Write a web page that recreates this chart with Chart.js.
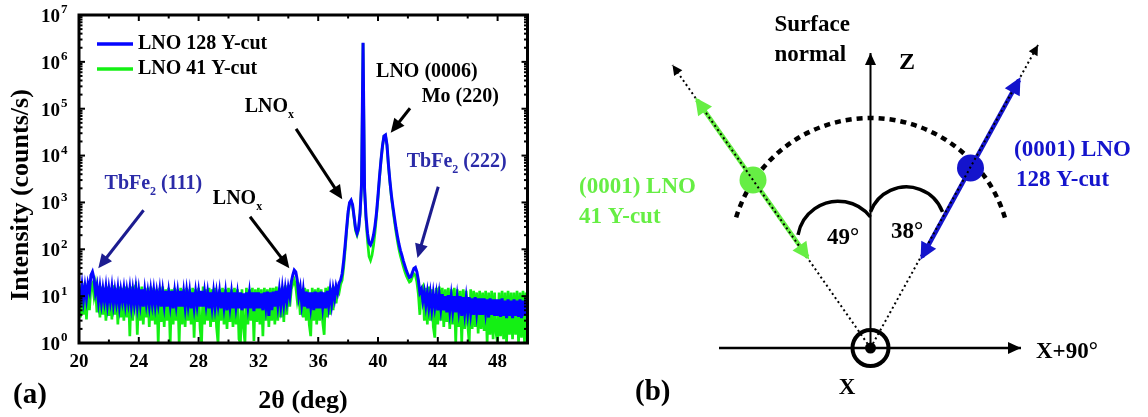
<!DOCTYPE html>
<html><head><meta charset="utf-8">
<script src="https://cdn.jsdelivr.net/npm/chart.js@4.4.1/dist/chart.umd.min.js"></script>
<style>
html,body{margin:0;padding:0;background:#fff;width:1148px;height:417px;overflow:hidden;}
#chartA{position:absolute;left:0;top:0;}
#chartB{position:absolute;left:560px;top:0;}
</style></head><body>
<canvas id="chartA" width="560" height="417"></canvas>
<canvas id="chartB" width="588" height="417"></canvas>
<script>
// ---------------- Panel (a) data ----------------
const TWO_THETA_START = 20.0;
const TWO_THETA_STEP = 0.1;
const xTickLabels = [20, 24, 28, 32, 36, 40, 44, 48];
const xMinorTicks = [22, 26, 30, 34, 38, 42, 46];
const yDecades = [1, 10, 100, 1e3, 1e4, 1e5, 1e6, 1e7];
const yExponents = ['0', '1', '2', '3', '4', '5', '6', '7'];

// LNO 128 Y-cut intensity (counts/s), one row per degree (20.0 ... 50.0)
const intensity128 = [
  14, 9, 17, 8.5, 16, 9, 18, 13, 28, 33,
  24, 12, 17, 8, 15, 7.5, 14, 8, 15, 7,
  14, 8, 15, 7, 13, 7.5, 14, 6.5, 13, 8,
  14, 7, 13, 7.5, 14, 6.5, 13, 7, 14, 6.5,
  13, 7, 14, 6, 13, 7, 12, 6.5, 13, 7,
  13, 6.5, 12, 7, 13, 6, 12.5, 6.5, 13, 6,
  12, 6.5, 13, 5.5, 12, 6.5, 12, 6, 13, 6,
  12, 6, 12.5, 6.5, 12, 5.5, 12, 6, 12, 6.5,
  12, 6, 13, 6, 12, 6.5, 11.5, 5.5, 12, 6,
  12, 6, 11.5, 6.5, 12, 5.5, 12, 6, 11.5, 5,
  12, 6, 11.5, 5.5, 12, 6, 11, 5.5, 12, 5,
  11.5, 5.5, 12, 6, 11.5, 5.5, 12, 4.8, 12, 5.5,
  12, 5.5, 11.5, 5, 12, 6, 12.5, 3.8, 12, 5,
  12.5, 6, 13, 6.5, 13, 6.5, 14, 7, 14, 8,
  15, 10, 20, 28, 36, 33, 22, 10, 15, 7,
  13, 6, 12.5, 5.5, 12, 6, 12, 5, 12.5, 5.5,
  12, 5.5, 12.5, 6, 12, 5.5, 13, 6.5, 13, 7,
  14, 9, 16, 12, 19, 22, 30, 56, 120, 280,
  630, 1000, 1120, 890, 500, 280, 220, 280, 600, 2500,
  2550000, 2000, 500, 220, 135, 123, 148, 200, 320, 600,
  1400, 3500, 8000, 16000, 26000, 27500, 17000, 6300, 2800, 1400,
  800, 480, 290, 190, 130, 95, 74, 56, 44, 35,
  29, 25, 26, 32, 39, 41, 33, 22, 12, 14,
  8, 12, 6.5, 11.5, 6, 11, 5.5, 11, 6, 10.5,
  5, 10.5, 5.5, 11, 5, 10, 4.5, 10.5, 5, 10,
  5, 10, 4.5, 9.5, 5, 10, 3.8, 9.5, 4.5, 9,
  4.5, 9.5, 4.5, 9, 4, 9.5, 4.5, 9, 4, 9,
  4, 9, 4.5, 8.5, 3.5, 9, 4, 8.5, 3.8, 8.5,
  3.8, 8.5, 3.6, 9, 3.8, 8, 3.4, 8.5, 3.8, 8,
  3.4, 8.5, 3.8, 8, 3.6, 8.5, 3.4, 8, 3.8, 8.5,
  4
];

// LNO 41 Y-cut intensity (counts/s)
const intensity41 = [
  18, 3.5, 17, 4, 19, 3.2, 16, 5, 17, 19,
  10, 16, 4.5, 15, 3.5, 16, 4, 15, 3, 16,
  3.8, 15, 3.2, 17, 4, 15, 2.5, 16, 3.5, 15,
  3, 16, 3.5, 15, 1.4, 16, 3, 15, 17, 1.5,
  15, 3, 16, 2.5, 14, 3.5, 15, 2.2, 16, 3,
  15, 2.5, 14, 1.0, 15, 2.8, 16, 2.2, 14, 3,
  15, 1.0, 14, 2.5, 15, 3, 14, 1.0, 15, 2.5,
  14, 2.2, 15, 3, 14, 2.5, 15, 1.3, 14, 2.8,
  15, 2, 1.0, 16, 2.5, 14, 3, 15, 2.2, 14,
  2.8, 15, 2.2, 1.0, 14, 3, 15, 2.5, 14, 2,
  15, 2.8, 14, 2.2, 15, 2.5, 14, 1.2, 1.0, 14,
  2.2, 1.0, 15, 2.5, 14, 3, 15, 1.1, 14, 2.8,
  15, 2.5, 14, 1.4, 15, 3, 14, 2.2, 15, 3,
  15, 2.5, 16, 3, 15, 3.5, 16, 2.8, 17, 4,
  16, 6, 14, 18, 22, 16, 8, 12, 4, 14,
  3.5, 15, 3, 14, 2.5, 1.4, 15, 3, 14, 2.5,
  15, 3, 14, 2.8, 1.5, 15, 3.5, 16, 4, 15,
  5, 16, 7, 14, 12, 18, 22, 40, 95, 240,
  560, 950, 1080, 850, 470, 250, 200, 260, 560, 2300,
  2500000, 1900, 420, 150, 70, 58, 75, 120, 230, 520,
  1250, 3300, 7800, 16000, 26000, 27000, 16500, 6000, 2600, 1250,
  700, 400, 240, 150, 100, 72, 55, 42, 33, 27,
  23, 20, 21, 26, 30, 28, 20, 11, 4, 14,
  16, 3, 15, 2.5, 16, 3, 14, 2.2, 1.3, 15,
  2.5, 16, 3, 15, 2.2, 14, 2.8, 15, 2, 14,
  2.5, 15, 1.0, 14, 2.2, 13, 1.0, 14, 2, 13,
  2.5, 1.0, 14, 2, 13, 2.2, 12, 1.6, 13, 2,
  12, 1.8, 13, 1.0, 12, 1.5, 13, 1.2, 12, 1.6,
  1.0, 12, 1.4, 13, 1.2, 12, 1.0, 13, 1.5, 12,
  1.2, 12, 1.5, 13, 1.0, 12, 1.3, 13, 1.0, 12,
  1.4
];

const seriesNames = ['LNO 128 Y-cut', 'LNO 41 Y-cut'];

// Annotation labels (x in deg, y in counts/s); parts: [text, 0=normal | 1=subscript]
const peakLabels = [
  {parts: [['TbFe', 0], ['2', 1], [' (111)', 0]], x: 21.71, y: 2512, color: '#2b2ba8'},
  {parts: [['LNO', 0], ['x', 1]], x: 28.95, y: 1183, color: '#000'},
  {parts: [['LNO', 0], ['x', 1]], x: 31.08, y: 110900, color: '#000'},
  {parts: [['LNO (0006)', 0]], x: 39.87, y: 616600, color: '#000'},
  {parts: [['Mo (220)', 0]], x: 42.92, y: 175000, color: '#000'},
  {parts: [['TbFe', 0], ['2', 1], [' (222)', 0]], x: 41.92, y: 7178, color: '#2b2ba8'}
];
const peakArrows = [
  {from: [24.32, 682], to: [21.29, 39.3], color: '#1c1c90'},
  {from: [31.44, 495], to: [34.07, 39.3], color: '#000'},
  {from: [34.52, 37070], to: [37.61, 1167], color: '#000'},
  {from: [42.14, 102100], to: [40.85, 30760], color: '#000'},
  {from: [44.03, 2163], to: [42.64, 65.2], color: '#1c1c90'}
];

// ---------------- Panel (b) data (schematic units, origin at the X pole, y up) ----------------
const axisX90 = [[-151.5, 0], [150.5, 0]];
const axisZ = [[0, 0], [0, 295]];
const ray41 = [[0, 0], [-198, 283]];
const ray128 = [[0, 0], [167.5, 303]];
const vector41 = [[-173.5, 248], [-63, 91]];
const vector128 = [[51.5, 91], [148.5, 268]];
const pole41 = [-117.5, 168];
const pole128 = [100, 180];
const originPole = [0, 0];
const sweepArc = {cx: 0, cy: 89.5, r: 140.5, fromDeg: 163, toDeg: 16};
const angleArc41 = {cx: -32.3, cy: 106, r: 40.8, fromDeg: 170, toDeg: 37.7};
const angleArc128 = {cx: 36, cy: 122.7, r: 38.4, fromDeg: 159.7, toDeg: 20.3};
const cutAngles = ['49°', '38°'];

// ---------------- helpers ----------------
const SERIF = '"Liberation Serif", "Times New Roman", Times, serif';
const BLUE = '#0505ff', GREEN = '#14f014';
const GREEN_B = '#66ee44', BLUE_B = '#1414cc';
function font(px) { return 'bold ' + px + 'px ' + SERIF; }
function drawParts(ctx, parts, x, y, color, align, size, subSize, subDy) {
  ctx.save();
  ctx.textBaseline = 'middle';
  ctx.textAlign = 'left';
  ctx.fillStyle = color;
  let total = 0;
  for (const p of parts) { ctx.font = font(p[1] ? subSize : size); total += ctx.measureText(p[0]).width; }
  let cx = align === 'center' ? x - total / 2 : (align === 'right' ? x - total : x);
  for (const p of parts) {
    ctx.font = font(p[1] ? subSize : size);
    ctx.fillText(p[0], cx, y + (p[1] ? subDy : 0));
    cx += ctx.measureText(p[0]).width;
  }
  ctx.restore();
}
function drawArrow(ctx, x1, y1, x2, y2, color, lw, headLen, headHalf, extend) {
  const a = Math.atan2(y2 - y1, x2 - x1);
  const c = Math.cos(a), s = Math.sin(a);
  const tx = x2 + (extend || 0) * c, ty = y2 + (extend || 0) * s;
  const bx = tx - headLen * c, by = ty - headLen * s;
  ctx.save();
  ctx.strokeStyle = color; ctx.fillStyle = color; ctx.lineWidth = lw;
  if (lw > 0) { ctx.beginPath(); ctx.moveTo(x1, y1); ctx.lineTo(bx + c, by + s); ctx.stroke(); }
  ctx.beginPath();
  ctx.moveTo(tx, ty);
  ctx.lineTo(bx + headHalf * s, by - headHalf * c);
  ctx.lineTo(bx - headHalf * s, by + headHalf * c);
  ctx.closePath(); ctx.fill();
  ctx.restore();
}

// ---------------- Chart (a) ----------------
const twoTheta = intensity128.map((_, i) => +(TWO_THETA_START + i * TWO_THETA_STEP).toFixed(2));

const panelAPlugin = {
  id: 'panelA',
  afterDraw(chart) {
    const ctx = chart.ctx, a = chart.chartArea;
    const xs = chart.scales.x, ys = chart.scales.y;
    ctx.save();
    ctx.strokeStyle = '#000'; ctx.lineWidth = 3;
    ctx.strokeRect(a.left, a.top, a.right - a.left, a.bottom - a.top);
    ctx.lineWidth = 2;
    const tick = (x1, y1, x2, y2) => { ctx.beginPath(); ctx.moveTo(x1, y1); ctx.lineTo(x2, y2); ctx.stroke(); };
    xTickLabels.forEach(v => { const p = xs.getPixelForValue(v); tick(p, a.bottom, p, a.bottom - 6); tick(p, a.top, p, a.top + 6); });
    xMinorTicks.forEach(v => { const p = xs.getPixelForValue(v); tick(p, a.bottom, p, a.bottom - 3.5); tick(p, a.top, p, a.top + 3.5); });
    yDecades.forEach((d, k) => {
      const p = ys.getPixelForValue(d);
      tick(a.left, p, a.left + 6, p); tick(a.right, p, a.right - 6, p);
      if (k < yDecades.length - 1) {
        for (let m = 2; m <= 9; m++) {
          const q = ys.getPixelForValue(d * m);
          tick(a.left, q, a.left + 3.5, q); tick(a.right, q, a.right - 3.5, q);
        }
      }
    });
    ctx.fillStyle = '#000';
    ctx.font = font(19); ctx.textAlign = 'center'; ctx.textBaseline = 'middle';
    xTickLabels.forEach(v => ctx.fillText(String(v), xs.getPixelForValue(v), 362));
    yDecades.forEach((d, k) => {
      const p = ys.getPixelForValue(d);
      ctx.font = font(19); ctx.textAlign = 'right'; ctx.fillText('10', 60, p + 2);
      ctx.font = font(13); ctx.textAlign = 'left'; ctx.fillText(yExponents[k], 61, p - 5);
    });
    ctx.font = font(26); ctx.textAlign = 'center';
    ctx.fillText('2θ (deg)', 303, 401);
    ctx.save(); ctx.translate(21, 195); ctx.rotate(-Math.PI / 2);
    ctx.fillText('Intensity (counts/s)', 0, 0); ctx.restore();
    ctx.font = font(29); ctx.textAlign = 'left';
    ctx.fillText('(a)', 13, 396);
    const legendColors = [BLUE, GREEN];
    seriesNames.forEach((n, i) => {
      const y = 44 + i * 25;
      ctx.strokeStyle = legendColors[i]; ctx.lineWidth = 3.5;
      tick(97, y, 133, y);
      ctx.fillStyle = '#000'; ctx.font = font(20); ctx.textAlign = 'left';
      ctx.fillText(n, 138, y);
    });
    peakArrows.forEach(ar => {
      drawArrow(ctx, xs.getPixelForValue(ar.from[0]), ys.getPixelForValue(ar.from[1]),
        xs.getPixelForValue(ar.to[0]), ys.getPixelForValue(ar.to[1]), ar.color, 3, 14, 6.5, 0);
    });
    peakLabels.forEach(l => {
      drawParts(ctx, l.parts, xs.getPixelForValue(l.x), ys.getPixelForValue(l.y), l.color, 'left', 20, 12, 8);
    });
    ctx.restore();
  }
};

new Chart(document.getElementById('chartA'), {
  type: 'line',
  data: {
    datasets: [
      {label: seriesNames[0], data: twoTheta.map((x, i) => ({x, y: intensity128[i]})),
       borderColor: BLUE, borderWidth: 3, pointRadius: 0, tension: 0, fill: false},
      {label: seriesNames[1], data: twoTheta.map((x, i) => ({x, y: intensity41[i]})),
       borderColor: GREEN, borderWidth: 2.7, pointRadius: 0, tension: 0, fill: false}
    ]
  },
  options: {
    responsive: false, animation: false, events: [],
    layout: {padding: {left: 79, right: 32.5, top: 15, bottom: 74}, autoPadding: false},
    plugins: {legend: {display: false}, tooltip: {enabled: false}},
    scales: {
      x: {type: 'linear', min: 20, max: 50, display: false},
      y: {type: 'logarithmic', min: 1, max: 1e7, display: false}
    }
  },
  plugins: [panelAPlugin]
});

// ---------------- Chart (b) ----------------
const pts = arr => arr.map(p => ({x: p[0], y: p[1]}));
const panelBPlugin = {
  id: 'panelB',
  beforeDatasetsDraw(chart) {
    const ctx = chart.ctx, xs = chart.scales.x, ys = chart.scales.y;
    const unit = xs.getPixelForValue(1) - xs.getPixelForValue(0);
    const arc = (A, lw, dash) => {
      ctx.save(); ctx.strokeStyle = '#000'; ctx.lineWidth = lw; ctx.setLineDash(dash);
      ctx.beginPath();
      ctx.arc(xs.getPixelForValue(A.cx), ys.getPixelForValue(A.cy), A.r * unit,
        -A.fromDeg * Math.PI / 180, -A.toDeg * Math.PI / 180, false);
      ctx.stroke(); ctx.restore();
    };
    arc(sweepArc, 4.5, [6, 5]);
    arc(angleArc41, 3.5, []);
    arc(angleArc128, 3.5, []);
  },
  afterDatasetsDraw(chart) {
    const ctx = chart.ctx, xs = chart.scales.x, ys = chart.scales.y;
    const P = p => [xs.getPixelForValue(p[0]), ys.getPixelForValue(p[1])];
    const head = (from, to, color, len, half, ext) => {
      const a = P(from), b = P(to);
      drawArrow(ctx, a[0], a[1], b[0], b[1], color, 0, len, half, ext);
    };
    head(axisX90[0], axisX90[1], '#000', 13, 6, 0);
    head(axisZ[0], axisZ[1], '#000', 12, 5.5, 0);
    head(ray41[0], ray41[1], '#000', 10, 5, 0);
    head(ray128[0], ray128[1], '#000', 10, 5, 0);
    head(vector41[1], vector41[0], GREEN_B, 17, 8.5, 3);
    head(vector41[0], vector41[1], GREEN_B, 17, 8.5, 3);
    head(vector128[1], vector128[0], BLUE_B, 17, 8.5, 3);
    head(vector128[0], vector128[1], BLUE_B, 17, 8.5, 3);
    const texts = [
      {t: 'Surface', p: [-96, 323], c: '#000', al: 'left', s: 23},
      {t: 'normal', p: [-96, 293], c: '#000', al: 'left', s: 23},
      {t: 'Z', p: [36.5, 285], c: '#000', al: 'center', s: 24},
      {t: 'X+90°', p: [165.5, -4], c: '#000', al: 'left', s: 23},
      {t: 'X', p: [-23.5, -40], c: '#000', al: 'center', s: 23},
      {t: '(b)', p: [-235.5, -45], c: '#000', al: 'left', s: 29},
      {t: '(0001) LNO', p: [-291.5, 161], c: GREEN_B, al: 'left', s: 23},
      {t: '41 Y-cut', p: [-291.5, 131], c: GREEN_B, al: 'left', s: 23},
      {t: '(0001) LNO', p: [143.5, 198], c: BLUE_B, al: 'left', s: 23},
      {t: '128 Y-cut', p: [145.5, 168], c: BLUE_B, al: 'left', s: 23},
      {t: cutAngles[0], p: [-27.5, 110], c: '#000', al: 'center', s: 23},
      {t: cutAngles[1], p: [36.5, 116], c: '#000', al: 'center', s: 23}
    ];
    texts.forEach(o => { const q = P(o.p); drawParts(ctx, [[o.t, 0]], q[0], q[1], o.c, o.al, o.s, 12, 0); });
  }
};

new Chart(document.getElementById('chartB'), {
  type: 'scatter',
  data: {
    datasets: [
      {data: pts(axisX90), showLine: true, borderColor: '#000', borderWidth: 2.5, pointRadius: 0},
      {data: pts(axisZ), showLine: true, borderColor: '#000', borderWidth: 2, pointRadius: 0},
      {data: pts(ray41), showLine: true, borderColor: '#000', borderWidth: 2, borderDash: [2, 3], pointRadius: 0},
      {data: pts(ray128), showLine: true, borderColor: '#000', borderWidth: 2, borderDash: [2, 3], pointRadius: 0},
      {data: pts(vector41), showLine: true, borderColor: GREEN_B, borderWidth: 4.5, pointRadius: 0},
      {data: pts(vector128), showLine: true, borderColor: BLUE_B, borderWidth: 4.5, pointRadius: 0},
      {data: pts([pole41]), pointRadius: 13.5, pointBackgroundColor: GREEN_B, pointBorderWidth: 0},
      {data: pts([pole128]), pointRadius: 13.5, pointBackgroundColor: BLUE_B, pointBorderWidth: 0},
      {data: pts([originPole]), pointRadius: 18, pointBackgroundColor: 'rgba(0,0,0,0)', pointBorderColor: '#000', pointBorderWidth: 4},
      {data: pts([originPole]), pointRadius: 5.5, pointBackgroundColor: '#000', pointBorderWidth: 0}
    ]
  },
  options: {
    responsive: false, animation: false, events: [],
    layout: {padding: 0, autoPadding: false},
    plugins: {legend: {display: false}, tooltip: {enabled: false}},
    scales: {
      x: {type: 'linear', min: -310.5, max: 277.5, display: false},
      y: {type: 'linear', min: -69, max: 348, display: false}
    }
  },
  plugins: [panelBPlugin]
});
</script></body></html>
